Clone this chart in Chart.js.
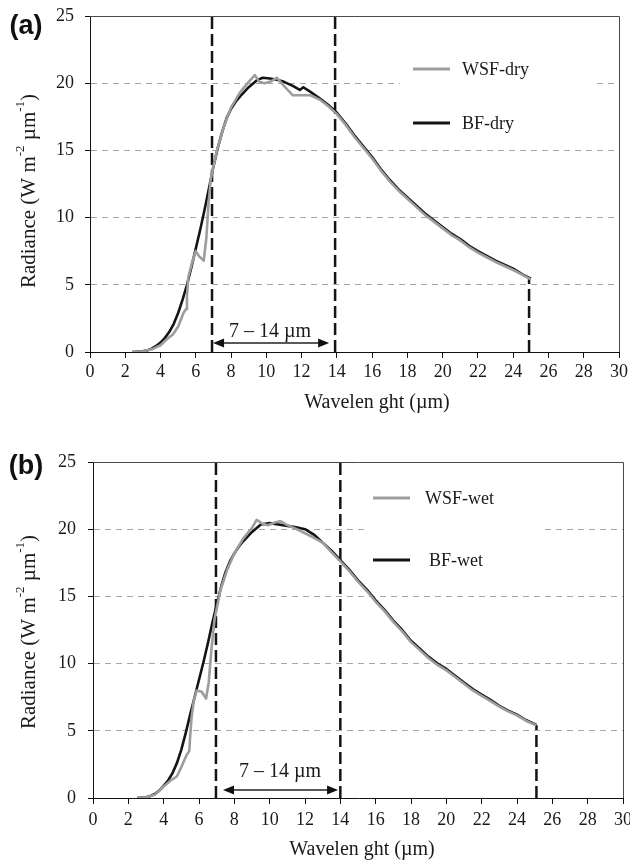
<!DOCTYPE html>
<html><head><meta charset="utf-8">
<script src="https://cdn.jsdelivr.net/npm/chart.js@4.4.1/dist/chart.umd.min.js"></script>
<style>
html,body{margin:0;padding:0;background:#fff;overflow:hidden;width:630px;height:862px}
canvas{position:absolute;left:0;display:block}
#ca{top:0}
#cb{top:440px}
</style></head><body>
<canvas id="ca" width="630" height="440"></canvas>
<canvas id="cb" width="630" height="422"></canvas>
<script>
// ---------- DATA ----------
const xTicks = [0,2,4,6,8,10,12,14,16,18,20,22,24,26,28,30];
const yTicks = [0,5,10,15,20,25];

const wsfDryX = [2.4,3.0,3.5,4.0,4.4,4.7,5.0,5.3,5.45,5.5,5.58,5.8,6.0,6.2,6.45,6.6,6.72,6.85,7.2,7.6,8.0,8.5,9.0,9.35,9.6,9.9,10.2,10.6,11.0,11.5,12.0,12.5,13.0,13.5,14.0,14.5,15.0,15.5,16.0,16.5,17.0,17.5,18.0,18.5,19.0,19.5,20.0,20.5,21.0,21.5,22.0,22.5,23.0,23.5,24.0,24.5,25.0];
const wsfDryY = [0,0.05,0.2,0.5,1.0,1.3,1.9,2.9,3.2,4.2,5.6,6.7,7.5,7.1,6.8,8.5,11.0,12.9,15.0,16.8,18.2,19.3,20.1,20.6,20.1,20.0,20.1,20.4,19.8,19.1,19.1,19.1,18.8,18.3,17.7,16.9,16.0,15.2,14.4,13.5,12.7,12.0,11.4,10.8,10.2,9.7,9.2,8.7,8.3,7.8,7.4,7.05,6.7,6.4,6.1,5.75,5.4];

const bfDryX = [2.4,3.0,3.25,3.5,3.75,4.0,4.25,4.5,4.75,5.0,5.25,5.5,5.75,6.0,6.25,6.5,6.75,7.0,7.25,7.5,7.75,8.0,8.25,8.5,9.0,9.5,9.8,10.2,10.6,11.0,11.5,11.9,12.1,12.5,13.0,13.5,14.0,14.5,15.0,15.5,16.0,16.5,17.0,17.5,18.0,18.5,19.0,19.5,20.0,20.5,21.0,21.5,22.0,22.5,23.0,23.5,24.0,24.5,25.0];
const bfDryY = [0,0.05,0.12,0.25,0.45,0.7,1.05,1.5,2.1,2.9,3.9,5.0,6.3,7.7,9.1,10.6,12.2,13.8,15.2,16.4,17.4,18.1,18.6,19.0,19.7,20.25,20.4,20.35,20.25,20.1,19.8,19.5,19.7,19.35,18.9,18.4,17.8,17.0,16.1,15.3,14.5,13.6,12.8,12.1,11.5,10.9,10.3,9.8,9.3,8.8,8.4,7.9,7.5,7.15,6.8,6.5,6.2,5.8,5.45];

const wsfWetX = [2.5,3.0,3.5,4.0,4.4,4.74,5.0,5.3,5.45,5.5,5.58,5.7,5.87,6.15,6.4,6.55,6.7,6.88,7.2,7.6,8.0,8.5,9.0,9.26,9.6,9.9,10.3,10.6,11.0,11.7,12.45,13.0,13.5,14.0,14.5,15.0,15.5,16.0,16.5,17.0,17.5,18.0,18.5,19.0,19.5,20.0,20.5,21.0,21.5,22.0,22.5,23.0,23.5,24.0,24.5,25.1];
const wsfWetY = [0,0.05,0.25,0.85,1.3,1.6,2.3,3.2,3.5,4.6,6.0,7.2,8.0,7.9,7.4,8.6,11.0,13.3,15.4,17.0,18.2,19.3,20.1,20.7,20.4,20.3,20.5,20.6,20.3,19.9,19.4,19.0,18.3,17.6,16.9,16.1,15.4,14.6,13.9,13.1,12.4,11.6,11.0,10.4,9.9,9.5,9.0,8.5,8.0,7.6,7.2,6.8,6.45,6.15,5.75,5.4];

const bfWetX = [2.5,3.0,3.25,3.5,3.75,4.0,4.25,4.5,4.75,5.0,5.25,5.5,5.75,6.0,6.25,6.5,6.75,7.0,7.25,7.5,7.75,8.0,8.25,8.5,9.0,9.5,10.0,10.5,11.0,11.5,12.0,12.5,13.0,13.5,14.0,14.5,15.0,15.5,16.0,16.5,17.0,17.5,18.0,18.5,19.0,19.5,20.0,20.5,21.0,21.5,22.0,22.5,23.0,23.5,24.0,24.5,25.1];
const bfWetY = [0,0.05,0.15,0.3,0.55,0.9,1.3,1.85,2.6,3.6,4.85,6.2,7.5,8.8,10.1,11.5,13.0,14.4,15.7,16.8,17.6,18.2,18.7,19.1,19.8,20.35,20.45,20.35,20.25,20.15,20.0,19.6,19.0,18.4,17.7,17.0,16.2,15.5,14.7,14.0,13.2,12.5,11.7,11.1,10.5,10.0,9.6,9.1,8.6,8.1,7.7,7.3,6.85,6.5,6.2,5.8,5.43];

// band limits (x), end line (x, top value), arrow (x from, x to, y)
const bandA = [6.92, 13.9];
const endA = [24.9, 5.45];
const arrowA = [6.98, 13.56, 0.67];
const bandB = [6.96, 14.0];
const endB = [25.1, 5.43];
const arrowB = [7.36, 13.87, 0.6];

const labelsA = ['WSF-dry', 'BF-dry'];
const labelsB = ['WSF-wet', 'BF-wet'];
const rangeLabel = '7 – 14 µm';
const xTitle = 'Wavelen ght (µm)';
const yTitleParts = [['Radiance (W m',0],['-2',1],[' µm',0],['-1',1],[')',0]];

// ---------- STYLE / LAYOUT ----------
const GRAY = '#9d9d9d', BLACK = '#141414';
const SERIF = '"Liberation Serif", "Times New Roman", serif';
const SANS = '"Liberation Sans", Arial, sans-serif';

const layoutA = {
  top: 0, height: 440, area: {l: 90, r: 619, t: 16, b: 352},
  xPad: 3, yPad: 11,
  panel: '(a)', panelPos: [26, 27],
  xTitlePos: [377, 403], yTitlePos: [28, 191],
  legendBox: [400, 45, 592, 140],
  legend: [{x1: 413, x2: 450, y: 69, tx: 462}, {x1: 413, x2: 450, y: 123, tx: 462}],
  rangePos: [270, 332]
};
const layoutB = {
  top: 440, height: 422, area: {l: 93, r: 623, t: 462, b: 798},
  xPad: 5, yPad: 12,
  panel: '(b)', panelPos: [26, 467],
  xTitlePos: [362, 850], yTitlePos: [28, 632],
  legendBox: [365, 475, 545, 585],
  legend: [{x1: 373, x2: 410, y: 498, tx: 425}, {x1: 373, x2: 410, y: 560, tx: 429}],
  rangePos: [280, 772]
};

function pts(xs, ys) { return xs.map((x, i) => ({x: x, y: ys[i]})); }

function makeDecor(L, labels, arrow) {
  return {
    id: 'decor',
    beforeDatasetsDraw(chart) {
      const ctx = chart.ctx, b = L.legendBox;
      ctx.save();
      ctx.fillStyle = '#fff';
      ctx.fillRect(b[0], b[1] - L.top, b[2] - b[0], b[3] - b[1]);
      ctx.restore();
    },
    afterDraw(chart) {
      const ctx = chart.ctx, ca = chart.chartArea, T = L.top;
      const xs = chart.scales.x, ys = chart.scales.y;
      ctx.save();
      // frame top/right
      ctx.strokeStyle = '#4a4a4a'; ctx.lineWidth = 1;
      ctx.beginPath();
      ctx.moveTo(ca.left, Math.round(ca.top) + 0.5);
      ctx.lineTo(Math.round(ca.right) + 0.5, Math.round(ca.top) + 0.5);
      ctx.lineTo(Math.round(ca.right) + 0.5, ca.bottom);
      ctx.stroke();
      // legend
      const cols = [GRAY, BLACK];
      ctx.font = '18px ' + SERIF; ctx.textBaseline = 'middle'; ctx.textAlign = 'left';
      L.legend.forEach((it, i) => {
        ctx.strokeStyle = cols[i]; ctx.lineWidth = 3;
        ctx.beginPath(); ctx.moveTo(it.x1, it.y - T); ctx.lineTo(it.x2, it.y - T); ctx.stroke();
        ctx.fillStyle = '#1a1a1a';
        ctx.fillText(labels[i], it.tx, it.y - T + 1);
      });
      // arrow
      const ax1 = xs.getPixelForValue(arrow[0]), ax2 = xs.getPixelForValue(arrow[1]);
      const ay = ys.getPixelForValue(arrow[2]);
      ctx.strokeStyle = '#222'; ctx.fillStyle = '#111'; ctx.lineWidth = 1.6;
      ctx.beginPath(); ctx.moveTo(ax1 + 8, ay); ctx.lineTo(ax2 - 8, ay); ctx.stroke();
      ctx.beginPath(); ctx.moveTo(ax1, ay); ctx.lineTo(ax1 + 11, ay - 4.5); ctx.lineTo(ax1 + 11, ay + 4.5); ctx.closePath(); ctx.fill();
      ctx.beginPath(); ctx.moveTo(ax2, ay); ctx.lineTo(ax2 - 11, ay - 4.5); ctx.lineTo(ax2 - 11, ay + 4.5); ctx.closePath(); ctx.fill();
      ctx.font = '20px ' + SERIF; ctx.textAlign = 'center'; ctx.fillStyle = '#1a1a1a';
      ctx.fillText(rangeLabel, L.rangePos[0], L.rangePos[1] - T);
      // x title
      ctx.font = '20px ' + SERIF;
      ctx.fillText(xTitle, L.xTitlePos[0], L.xTitlePos[1] - T);
      // y title with superscripts
      ctx.save();
      ctx.translate(L.yTitlePos[0], L.yTitlePos[1] - T);
      ctx.rotate(-Math.PI / 2);
      const fMain = '21px ' + SERIF, fSup = '13px ' + SERIF;
      let total = 0;
      yTitleParts.forEach(p => { ctx.font = p[1] ? fSup : fMain; total += ctx.measureText(p[0]).width; });
      let x = -total / 2;
      ctx.textAlign = 'left';
      yTitleParts.forEach(p => {
        ctx.font = p[1] ? fSup : fMain;
        ctx.fillText(p[0], x, p[1] ? -7 : 1);
        x += ctx.measureText(p[0]).width;
      });
      ctx.restore();
      // panel label
      ctx.font = 'bold 27px ' + SANS; ctx.textAlign = 'center'; ctx.fillStyle = '#111';
      ctx.fillText(L.panel, L.panelPos[0], L.panelPos[1] - T);
      ctx.restore();
    }
  };
}

function makeChart(id, L, wx, wy, bx, by, band, end, arrow, labels) {
  const W = 630;
  const dash = (x, top) => ({
    data: [{x: x, y: 0}, {x: x, y: top}],
    borderColor: BLACK, borderWidth: 2.5, borderDash: [12, 5],
    pointRadius: 0, fill: false, tension: 0
  });
  return new Chart(document.getElementById(id), {
    type: 'line',
    data: {
      datasets: [
        {label: labels[0], data: pts(wx, wy), borderColor: GRAY, borderWidth: 2.6, pointRadius: 0, tension: 0, fill: false, borderJoinStyle: 'round'},
        {label: labels[1], data: pts(bx, by), borderColor: BLACK, borderWidth: 2.6, pointRadius: 0, tension: 0, fill: false, borderJoinStyle: 'round'},
        Object.assign({label: 'l1'}, dash(band[0], 25)),
        Object.assign({label: 'l2'}, dash(band[1], 25)),
        Object.assign({label: 'l3'}, dash(end[0], end[1]))
      ]
    },
    options: {
      responsive: false, animation: false, devicePixelRatio: 1,
      layout: {padding: {left: 0, right: W - L.area.r, top: L.area.t - L.top, bottom: 0}},
      plugins: {legend: {display: false}, tooltip: {enabled: false}},
      scales: {
        x: {
          type: 'linear', min: 0, max: 30,
          afterBuildTicks: s => { s.ticks = xTicks.map(v => ({value: v})); },
          afterFit: s => { s.height = L.height - (L.area.b - L.top); s.paddingLeft = 0; s.paddingRight = 0; },
          grid: {drawOnChartArea: false, drawTicks: true, tickLength: 6, tickColor: '#111', tickWidth: 1},
          border: {display: true, color: '#111', width: 1},
          ticks: {color: '#1a1a1a', font: {family: SERIF, size: 18}, padding: L.xPad, maxRotation: 0, autoSkip: false}
        },
        y: {
          type: 'linear', min: 0, max: 25,
          afterBuildTicks: s => { s.ticks = yTicks.map(v => ({value: v})); },
          afterFit: s => { s.width = L.area.l; s.paddingTop = 0; s.paddingBottom = 0; },
          grid: {
            drawOnChartArea: true, drawTicks: true, tickLength: 5, tickColor: '#111', tickWidth: 1,
            lineWidth: 1,
            color: c => (c.tick && (c.tick.value === 0 || c.tick.value === 25)) ? 'rgba(0,0,0,0)' : '#a6a6a6'
          },
          border: {display: true, color: '#111', width: 1, dash: [6, 5]},
          ticks: {color: '#1a1a1a', font: {family: SERIF, size: 18}, padding: L.yPad}
        }
      }
    },
    plugins: [makeDecor(L, labels, arrow)]
  });
}

makeChart('ca', layoutA, wsfDryX, wsfDryY, bfDryX, bfDryY, bandA, endA, arrowA, labelsA);
makeChart('cb', layoutB, wsfWetX, wsfWetY, bfWetX, bfWetY, bandB, endB, arrowB, labelsB);
</script>
</body></html>
